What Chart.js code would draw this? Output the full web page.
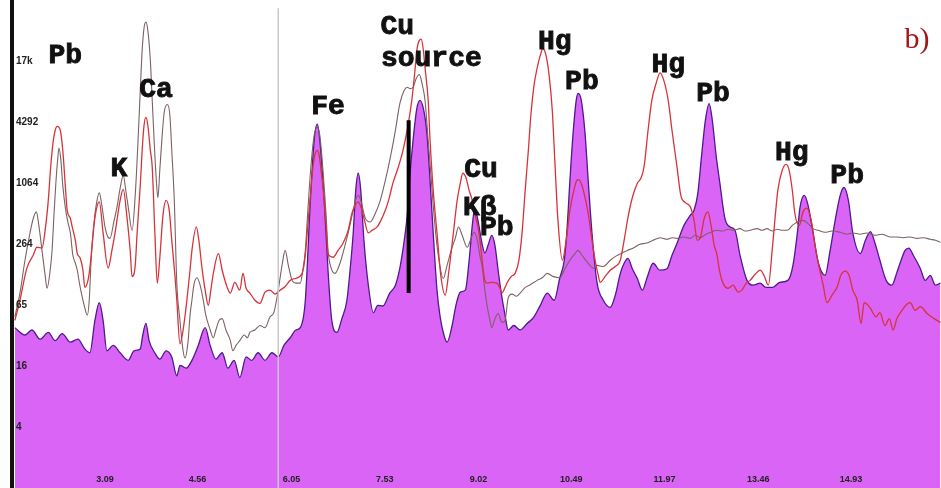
<!DOCTYPE html>
<html>
<head>
<meta charset="utf-8">
<title>XRF spectrum b)</title>
<script src="https://cdn.jsdelivr.net/npm/chart.js@4/dist/chart.umd.min.js"></script>
<style>
  html, body { margin: 0; padding: 0; background: #fff; }
  #spectrum { display: block; }
</style>
</head>
<body>
<canvas id="spectrum" width="941" height="488"></canvas>
<script>
// Axis ticks
var xTicks = [3.09, 4.56, 6.05, 7.53, 9.02, 10.49, 11.97, 13.46, 14.93];
var yTicks = [4, 16, 65, 264, 1064, 4292, 17000];

// Filled (violet) spectrum
var violetEnergy = [1.66,1.82,1.93,2.06,2.19,2.30,2.41,2.54,2.66,2.77,
  2.85,2.93,3.00,3.06,3.12,3.22,3.33,3.46,3.55,3.65,
  3.69,3.74,3.79,3.88,3.96,4.06,4.15,4.23,4.28,4.38,
  4.47,4.57,4.68,4.76,4.85,4.95,5.04,5.14,5.23,5.33,
  5.42,5.52,5.63,5.74,5.84,5.93,6.03,6.12,6.19,6.27,
  6.35,6.41,6.46,6.50,6.57,6.63,6.69,6.77,6.85,6.93,
  6.98,7.03,7.07,7.11,7.15,7.20,7.27,7.35,7.42,7.50,
  7.61,7.70,7.77,7.84,7.89,7.93,7.98,8.04,8.09,8.15,
  8.20,8.25,8.30,8.36,8.41,8.47,8.52,8.60,8.66,8.73,
  8.81,8.87,8.92,8.96,9.01,9.08,9.12,9.17,9.23,9.28,
  9.33,9.38,9.44,9.49,9.58,9.68,9.79,9.89,10.00,10.11,
  10.22,10.31,10.38,10.42,10.47,10.52,10.57,10.60,10.65,10.71,
  10.76,10.82,10.90,11.00,11.11,11.19,11.27,11.33,11.39,11.46,
  11.54,11.62,11.69,11.79,11.90,12.01,12.09,12.17,12.28,12.38,
  12.44,12.50,12.56,12.62,12.68,12.73,12.79,12.85,12.93,13.01,
  13.09,13.17,13.28,13.38,13.49,13.58,13.69,13.80,13.93,14.01,
  14.08,14.12,14.19,14.25,14.33,14.41,14.52,14.60,14.68,14.76,
  14.82,14.89,14.96,15.08,15.16,15.24,15.31,15.39,15.49,15.58,
  15.66,15.71,15.79,15.85,15.92,16.03,16.11,16.19,16.27,16.35];
var violetCounts = [39,33,37,30,35,29,34,28,30,24,
  22,46,69,46,23,26,22,18.5,23,24,
  33,43,29,22,19,23,20,13,16.5,15.5,
  18.5,26,39,26,19,22,15.5,18.5,12.5,20,
  18.5,22,18.5,22,20,26,31,37,39,73,
  716,2820,4090,2820,716,145,46,35,48,73,
  145,340,900,1330,900,287,103,55,65,64,
  86,103,152,287,530,1268,2820,5860,7040,5600,
  3310,1131,340,92,50,33,28,41,65,88,
  92,182,404,600,453,256,215,256,322,256,
  145,86,52,37,41,37,43,49,65,86,
  73,122,182,340,1131,3310,7040,8240,7040,3310,
  1131,340,109,73,62,82,135,170,190,150,
  120,92,120,170,145,150,204,268,404,508,
  570,840,2000,4460,6540,4460,2000,1060,475,390,
  361,204,115,103,108,98,98,110,115,162,
  340,600,803,639,340,175,129,228,453,803,
  960,716,340,212,287,350,272,182,115,103,
  138,170,228,240,204,152,115,129,103,108];

// Red spectrum
var redEnergy = [1.66,1.74,1.85,1.95,2.01,2.09,2.14,2.19,2.23,2.27,
  2.30,2.33,2.38,2.42,2.46,2.49,2.54,2.57,2.62,2.65,
  2.69,2.74,2.77,2.82,2.85,2.93,3.00,3.06,3.14,3.20,
  3.25,3.33,3.38,3.44,3.49,3.52,3.57,3.60,3.65,3.68,
  3.71,3.74,3.77,3.81,3.84,3.88,3.92,3.96,4.01,4.06,
  4.11,4.15,4.20,4.23,4.28,4.33,4.39,4.44,4.47,4.54,
  4.58,4.63,4.68,4.73,4.77,4.81,4.89,4.95,5.03,5.08,
  5.15,5.23,5.28,5.33,5.39,5.47,5.55,5.63,5.71,5.79,
  5.87,5.95,6.03,6.11,6.22,6.27,6.30,6.35,6.39,6.42,
  6.46,6.49,6.52,6.55,6.60,6.63,6.71,6.79,6.87,6.95,
  7.01,7.06,7.11,7.15,7.20,7.27,7.33,7.41,7.47,7.54,
  7.60,7.66,7.74,7.82,7.90,7.96,8.01,8.04,8.08,8.11,
  8.14,8.17,8.22,8.25,8.30,8.36,8.42,8.49,8.55,8.62,
  8.68,8.73,8.77,8.82,8.87,8.92,8.96,9.01,9.06,9.09,
  9.12,9.16,9.23,9.31,9.36,9.39,9.44,9.47,9.54,9.60,
  9.66,9.71,9.76,9.81,9.85,9.90,9.95,10.00,10.04,10.09,
  10.14,10.19,10.23,10.28,10.35,10.41,10.47,10.54,10.58,10.61,
  10.66,10.71,10.76,10.82,10.87,10.92,10.95,11.03,11.11,11.19,
  11.27,11.33,11.39,11.46,11.54,11.60,11.65,11.71,11.77,11.84,
  11.90,11.96,12.03,12.09,12.17,12.23,12.30,12.38,12.44,12.49,
  12.54,12.60,12.66,12.71,12.76,12.80,12.85,12.90,12.98,13.06,
  13.14,13.20,13.27,13.33,13.41,13.49,13.55,13.62,13.68,13.73,
  13.77,13.84,13.90,13.95,14.00,14.04,14.11,14.17,14.23,14.30,
  14.36,14.42,14.49,14.55,14.63,14.71,14.77,14.84,14.90,14.96,
  15.03,15.09,15.14,15.23,15.33,15.39,15.47,15.54,15.60,15.66,
  15.74,15.81,15.87,15.95,16.03,16.14,16.23,16.35];
var redCounts = [46,73,152,204,245,240,361,716,1594,2820,
  3550,3880,3550,2245,1009,570,475,390,287,212,
  195,145,98,115,152,480,690,340,152,228,
  340,716,920,480,228,125,162,340,1009,2245,
  3980,4760,3980,2245,1530,361,108,192,508,716,
  570,287,129,73,27,37,73,145,228,390,
  287,152,92,65,92,135,212,145,98,86,
  110,92,135,96,86,73,68,88,92,84,
  92,100,115,120,135,204,340,803,1530,2000,
  2245,2000,1422,960,404,212,195,228,270,361,
  530,639,690,620,480,340,361,390,453,570,
  750,1060,1490,2245,3980,7040,13960,22050,27720,28500,
  23000,14800,7040,2820,900,340,129,82,145,340,
  716,1060,1330,1200,900,716,530,390,228,152,
  115,108,110,108,96,86,98,108,126,135,
  182,340,900,2245,5000,9910,14800,19670,23000,19670,
  12460,5600,1786,453,182,287,570,940,1131,1150,
  1009,760,530,287,182,129,110,126,145,158,
  182,287,480,760,1060,1200,1594,3550,7040,10500,
  13200,11110,7040,3550,1530,803,680,620,453,287,
  305,470,550,404,256,212,138,108,96,103,
  88,92,108,115,132,145,129,103,228,508,
  900,1422,1630,1422,900,530,404,550,600,453,
  256,162,103,69,82,98,129,142,129,92,
  73,43,69,62,50,55,41,48,37,48,
  58,66,69,58,63,54,49,44];

// Brown spectrum
var brownEnergy = [1.66,1.74,1.82,1.90,1.95,2.00,2.04,2.09,2.14,2.17,
  2.22,2.25,2.28,2.31,2.34,2.36,2.39,2.42,2.46,2.50,
  2.54,2.58,2.62,2.65,2.69,2.76,2.81,2.84,2.87,2.90,
  2.95,3.00,3.04,3.09,3.14,3.17,3.23,3.28,3.33,3.38,
  3.42,3.46,3.52,3.57,3.62,3.65,3.68,3.71,3.74,3.77,
  3.81,3.84,3.87,3.90,3.93,3.96,4.00,4.03,4.08,4.12,
  4.15,4.19,4.23,4.28,4.33,4.36,4.41,4.44,4.47,4.50,
  4.55,4.60,4.65,4.69,4.76,4.81,4.85,4.90,4.95,5.01,
  5.08,5.12,5.17,5.23,5.30,5.35,5.39,5.47,5.55,5.63,
  5.71,5.77,5.84,5.90,5.95,6.00,6.06,6.12,6.19,6.23,
  6.27,6.31,6.36,6.41,6.46,6.50,6.55,6.60,6.63,6.68,
  6.74,6.82,6.90,6.96,7.03,7.08,7.11,7.15,7.22,7.30,
  7.38,7.46,7.54,7.61,7.70,7.77,7.84,7.89,7.93,7.98,
  8.03,8.08,8.12,8.17,8.22,8.27,8.32,8.38,8.46,8.52,
  8.60,8.65,8.70,8.76,8.84,8.90,8.95,9.00,9.04,9.08,
  9.12,9.16,9.20,9.23,9.28,9.33,9.39,9.44,9.49,9.55,
  9.62,9.68,9.76,9.84,9.95,10.03,10.11,10.20,10.31,10.39,
  10.47,10.55,10.60,10.66,10.76,10.84,10.90,11.00,11.11,11.20,
  11.30,11.38,11.47,11.58,11.69,11.79,11.90,12.01,12.09,12.17,
  12.28,12.38,12.46,12.54,12.63,12.71,12.80,12.90,12.98,13.06,
  13.17,13.25,13.33,13.44,13.52,13.60,13.68,13.76,13.84,13.92,
  14.00,14.08,14.17,14.25,14.33,14.41,14.52,14.63,14.76,14.87,
  14.96,15.08,15.18,15.31,15.42,15.55,15.66,15.76,15.87,15.98,
  16.08,16.19,16.27,16.35];
var brownCounts = [50,86,182,340,470,550,404,228,129,96,
  145,228,508,1060,1860,2360,1786,1009,610,437,
  340,204,170,145,103,65,52,73,182,340,
  639,850,639,390,307,300,437,610,940,1268,
  900,610,361,803,3310,8840,22050,36900,42000,34840,
  17550,7040,2820,1268,760,1422,3310,5360,6400,5000,
  2245,716,108,46,23,19.5,29,52,73,103,
  122,103,73,52,37,31,37,46,48,37,
  29,23,26,29,33,31,35,37,41,39,
  50,55,92,162,228,162,115,108,108,145,
  228,570,1594,3160,3800,3160,1422,508,228,152,
  135,170,256,361,570,760,803,716,480,437,
  530,716,1131,1786,3550,6540,8840,9500,9200,9500,
  11600,12700,10500,7040,2820,1131,453,204,120,162,
  245,300,390,322,245,300,345,287,204,152,
  92,62,46,39,48,54,44,46,77,84,
  80,86,98,104,115,122,135,126,122,150,
  182,212,228,204,170,152,162,158,182,200,
  215,228,240,262,270,287,305,294,305,300,
  310,300,322,305,330,345,361,355,370,361,
  375,355,361,375,361,375,355,370,361,361,
  404,437,453,420,375,361,345,355,345,330,
  340,330,340,322,330,310,310,305,310,300,
  305,294,287,275];

// Marker lines: detector cursor and the Cu source bar
var cursorEnergy = 5.84;
var cursorCounts = [1, 57700];
var cuSourceEnergy = 7.91;
var cuSourceCounts = [86, 4460];

// Peak labels (text, energy keV, counts at text centre)
var labelText = ['Pb', 'K', 'Ca', 'Fe', 'Cu', 'source', 'Cu', 'K\u03b2', 'Pb', 'Hg', 'Pb', 'Hg', 'Pb', 'Hg', 'Pb'];
var labelEnergy = [2.46, 3.31, 3.90, 6.63, 7.73, 8.27, 9.06, 9.04, 9.31, 10.23, 10.66, 12.03, 12.74, 13.99, 14.87];
var labelCounts = [19200, 1480, 8840, 5990, 37400, 17980, 1422, 600, 378, 26500, 10600, 15640, 8200, 2100, 1240];
var panelTag = 'b)';
var panelEnergy = 15.98;
var panelCounts = 27700;

function pairs(xs, ys) {
  return xs.map(function(x, i) { return {x: x, y: ys[i]}; });
}

var peakLabels = {
  id: 'peakLabels',
  afterDatasetsDraw: function(chart) {
    var ctx = chart.ctx;
    var xs = chart.scales.x, ys = chart.scales.y;
    ctx.save();
    ctx.textAlign = 'center';
    ctx.textBaseline = 'middle';
    ctx.fillStyle = '#111';
    ctx.strokeStyle = '#111';
    ctx.lineWidth = 0.9;
    ctx.font = 'bold 28px "Liberation Mono", "Courier New", monospace';
    for (var i = 0; i < labelText.length; i++) {
      var px = xs.getPixelForValue(labelEnergy[i]), py = ys.getPixelForValue(labelCounts[i]);
      ctx.fillText(labelText[i], px, py);
      ctx.strokeText(labelText[i], px, py);
    }
    ctx.fillStyle = '#a3161b';
    ctx.font = '30px "Liberation Serif", serif';
    ctx.fillText(panelTag, xs.getPixelForValue(panelEnergy), ys.getPixelForValue(panelCounts));
    ctx.restore();
  }
};

var tickFont = {family: '"Liberation Sans", Arial, sans-serif', weight: 'bold'};

new Chart(document.getElementById('spectrum'), {
  type: 'line',
  data: {
    datasets: [{
      label: 'cursor',
      data: pairs([cursorEnergy, cursorEnergy], cursorCounts),
      borderColor: '#c9c9c9',
      borderWidth: 1.5,
      order: 0
    }, {
      label: 'Cu source',
      data: pairs([cuSourceEnergy, cuSourceEnergy], cuSourceCounts),
      borderColor: '#000',
      borderWidth: 4,
      order: 0
    }, {
      label: 'red',
      data: pairs(redEnergy, redCounts),
      borderColor: '#d6343a',
      borderWidth: 1.3,
      order: 1
    }, {
      label: 'brown',
      data: pairs(brownEnergy, brownCounts),
      borderColor: '#7c6262',
      borderWidth: 1.1,
      order: 2
    }, {
      label: 'violet',
      data: pairs(violetEnergy, violetCounts),
      borderColor: '#4e1a8e',
      backgroundColor: 'rgb(217, 100, 245)',
      borderWidth: 1.3,
      fill: 'start',
      order: 3
    }]
  },
  options: {
    responsive: false,
    animation: false,
    devicePixelRatio: 1,
    layout: {padding: 0},
    elements: {
      point: {radius: 0},
      line: {cubicInterpolationMode: 'monotone'}
    },
    plugins: {
      legend: {display: false},
      tooltip: {enabled: false}
    },
    scales: {
      x: {
        type: 'linear',
        min: 1.614,
        max: 16.36,
        afterFit: function(s) {
          s.height = 0;
          s.paddingLeft = 0;
          s.paddingRight = 0;
        },
        afterBuildTicks: function(s) { s.ticks = xTicks.map(function(v) { return {value: v}; }); },
        grid: {display: false, drawTicks: false},
        border: {display: false},
        ticks: {
          z: 2,
          mirror: true,
          autoSkip: false,
          maxRotation: 0,
          padding: 3,
          color: '#222',
          font: Object.assign({size: 9}, tickFont),
          callback: function(v) { return v.toFixed(2); }
        }
      },
      y: {
        type: 'logarithmic',
        min: 1,
        max: 69700,
        position: 'left',
        afterFit: function(s) {
          s.width = 12;
          s.paddingTop = 0;
          s.paddingBottom = 0;
        },
        afterBuildTicks: function(s) { s.ticks = yTicks.map(function(v) { return {value: v}; }); },
        grid: {drawOnChartArea: false, drawTicks: false},
        border: {display: true, color: '#111', width: 4, z: 2},
        ticks: {
          z: 2,
          mirror: true,
          padding: 4,
          autoSkip: false,
          color: '#222',
          font: Object.assign({size: 10}, tickFont),
          callback: function(v) { return v >= 10000 ? Math.round(v / 1000) + 'k' : String(v); }
        }
      }
    }
  },
  plugins: [peakLabels]
});
</script>
</body>
</html>
